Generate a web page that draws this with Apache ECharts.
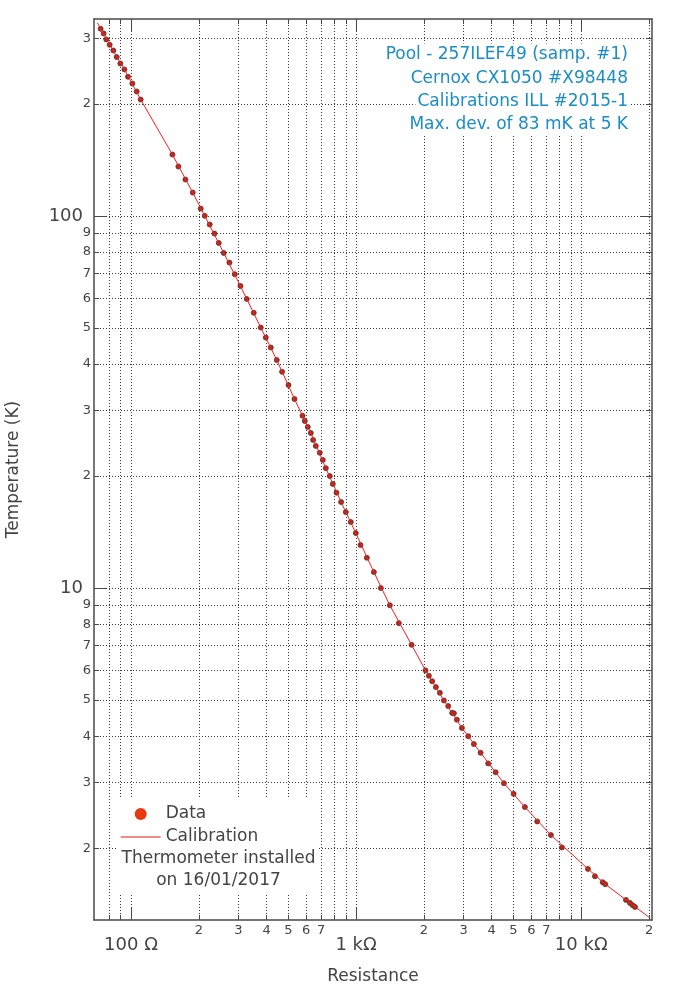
<!DOCTYPE html>
<html><head><meta charset="utf-8">
<script src="https://cdn.jsdelivr.net/npm/echarts@6/dist/echarts.min.js"></script>
<style>html,body{margin:0;padding:0;background:#fff}#c{width:700px;height:990px}</style>
</head><body><div id="c"></div>
<script>
// ---- data ----
const dataR = [73.3,75.6,77.7,80.4,83.5,86.4,89.7,93.5,97.0,101.4,106.0,110.4,152.8,162.4,174.5,188.0,204.0,212.6,223.7,234.8,245.3,258.2,273.7,289.0,306.4,326.8,351.0,377.1,396.9,417.8,444.2,469.0,500.7,532.4,577.9,591.6,610.0,629.1,644.1,662.1,689.8,711.2,733.4,764.0,787.8,818.2,857.6,900.0,947.1,997.0,1046,1116,1199,1288,1412,1548,1763,2034,2104,2177,2261,2355,2454,2564,2671,2718,2803,2950,3147,3335,3573,3861,4165,4534,5007,5621,6375,7334,8208,10710,11506,12450,12790,15800,16460,16920,17330];
const dataT = [318.2,309.1,297.8,288.2,278.2,267.1,256.7,247.4,236.4,226.8,215.9,205.4,146.1,135.7,125.2,115.5,104.6,100.0,94.8,89.6,84.6,79.5,74.9,69.7,64.8,59.8,54.9,50.1,47.1,44.3,41.0,38.1,35.1,32.2,29.05,28.1,27.1,26.1,25.0,24.1,23.1,22.1,21.0,20.0,19.04,18.04,17.03,16.0,15.05,14.05,13.05,12.06,11.04,10.0,8.99,8.05,7.04,6.01,5.81,5.62,5.42,5.23,4.99,4.82,4.62,4.61,4.43,4.21,4.00,3.81,3.61,3.38,3.20,2.99,2.80,2.58,2.36,2.17,2.01,1.760,1.682,1.621,1.601,1.453,1.426,1.406,1.391];
const calR = [70.9,80.4,93.5,110.4,152.8,188.0,212.6,258.2,306.4,377.1,444.2,532.4,629.1,733.4,857.6,997.0,1199,1412,1763,2034,2454,2950,3573,4534,5621,7334,10710,12790,15800,20000];
const calT = [330,288.2,247.4,205.4,146.1,115.5,100.0,79.5,64.8,50.1,41.0,32.2,26.1,21.0,17.03,14.05,11.04,8.99,7.04,6.01,4.99,4.21,3.61,2.99,2.58,2.17,1.760,1.601,1.453,1.305];

// ---- axes ticks / labels ----
const xGridVals = [80,90,100,200,300,400,500,600,700,800,900,1000,2000,3000,4000,5000,6000,7000,8000,9000,10000,20000];
const xMinorLabelVals = [200,300,400,500,600,700,2000,3000,4000,5000,6000,7000,20000];
const xMajorVals = [100,1000,10000];
const xMajorLabels = ['100 Ω','1 kΩ','10 kΩ'];
const yGridVals = [2,3,4,5,6,7,8,9,10,20,30,40,50,60,70,80,90,100,200,300];
const yMinorLabelVals = [2,3,4,5,6,7,8,9,20,30,40,50,60,70,80,90,200,300];
const yMajorVals = [10,100];
const yMajorLabels = ['10','100'];
const infoLines = ['Pool - 257ILEF49 (samp. #1)','Cernox CX1050 #X98448','Calibrations ILL #2015-1','Max. dev. of 83 mK at 5 K'];
const noteLines = ['Thermometer installed','on 16/01/2017'];
const seriesNames = ['Data','Calibration'];
const xName = 'Resistance';
const yName = 'Temperature (K)';

const X_MIN = 68.5, X_MAX = 20620, Y_MIN = 1.283, Y_MAX = 338;
const FONT = 'DejaVu Sans';
const AX = '#4a4a4a', TXT = '#444', BLUE = '#1a8dc7', GRID = '#3a3a3a';

function digit(v){ const e = Math.floor(Math.log10(v) + 1e-9); return String(Math.round(v / Math.pow(10, e))); }
function nearestLabel(vals, labels){ return function(v){ let b=0, d=1e9; vals.forEach((x,i)=>{ const dd=Math.abs(Math.log10(x)-Math.log10(v)); if(dd<d){d=dd;b=i;} }); return labels[b]; }; }

function axisBase(min, max, position){
  return {type:'log', logBase:10, min:min, max:max, position:position, gridIndex:0,
    axisLine:{show:false, onZero:false, lineStyle:{color:AX, width:1.5}},
    axisTick:{show:false}, minorTick:{show:false}, splitLine:{show:false},
    axisLabel:{show:false}};
}
function withMinor(ax, ticks){
  ax.axisLine.show = true;
  ax.axisTick = {show:true, inside:true, length:5, customValues:ticks, lineStyle:{color:AX, width:1}};
  return ax;
}
function withMajor(ax, ticks){
  ax.axisTick = {show:true, inside:true, length:12, customValues:ticks, lineStyle:{color:AX, width:1}};
  return ax;
}

const x0 = withMinor(axisBase(X_MIN, X_MAX, 'bottom'), xGridVals);
x0.splitLine = {show:true, lineStyle:{type:[1,2], color:GRID, width:1}};
x0.axisLabel = {show:true, customValues:xMinorLabelVals, formatter:digit, fontSize:13, margin:4, color:TXT, fontFamily:FONT};
x0.name = xName; x0.nameLocation = 'middle'; x0.nameGap = 48;
x0.nameTextStyle = {fontSize:17, color:TXT, fontFamily:FONT};
const x1 = withMajor(axisBase(X_MIN, X_MAX, 'bottom'), xMajorVals);
x1.axisLabel = {show:true, customValues:xMajorVals, formatter:nearestLabel(xMajorVals, xMajorLabels), fontSize:18, margin:16, color:TXT, fontFamily:FONT};
const x2 = withMinor(axisBase(X_MIN, X_MAX, 'top'), xGridVals);
const x3 = withMajor(axisBase(X_MIN, X_MAX, 'top'), xMajorVals);

const y0 = withMinor(axisBase(Y_MIN, Y_MAX, 'left'), yGridVals);
y0.splitLine = {show:true, lineStyle:{type:[1,2], color:GRID, width:1}};
y0.axisLabel = {show:true, customValues:yMinorLabelVals, formatter:digit, fontSize:13, margin:3, color:TXT, fontFamily:FONT};
y0.name = yName; y0.nameLocation = 'middle'; y0.nameGap = 72;
y0.nameTextStyle = {fontSize:17, color:TXT, fontFamily:FONT};
const y1 = withMajor(axisBase(Y_MIN, Y_MAX, 'left'), yMajorVals);
y1.axisLabel = {show:true, customValues:yMajorVals, formatter:nearestLabel(yMajorVals, yMajorLabels), fontSize:18, margin:11, color:TXT, fontFamily:FONT};
const y2 = withMinor(axisBase(Y_MIN, Y_MAX, 'right'), yGridVals);
const y3 = withMajor(axisBase(Y_MIN, Y_MAX, 'right'), yMajorVals);

const infoCenters = [55, 78.5, 101.5, 124.5];
const graphics = infoLines.map((t,i)=>({
  type:'text', x:630, y:infoCenters[i], z:20,
  style:{text:t, align:'right', verticalAlign:'middle', fill:BLUE, fontSize:17, fontFamily:FONT, backgroundColor:'#fff', padding:[3,2]}
}));
graphics.push({type:'rect', shape:{x:118, y:798, width:199, height:97}, style:{fill:'#fff'}, z:20});
const noteCenters = [859, 881];
noteLines.forEach((t,i)=>graphics.push({
  type:'text', x:218.5, y:noteCenters[i], z:21,
  style:{text:t, align:'center', verticalAlign:'middle', fill:TXT, fontSize:17, fontFamily:FONT}
}));

const chart = echarts.init(document.getElementById('c'), null, {renderer:'canvas'});
chart.setOption({
  animation:false,
  backgroundColor:'#fff',
  textStyle:{fontFamily:FONT},
  grid:{left:94, right:48, top:19, bottom:70, containLabel:false, outerBoundsMode:'none'},
  xAxis:[x0,x1,x2,x3],
  yAxis:[y0,y1,y2,y3],
  legend:{orient:'vertical', left:120.7, top:805.5, padding:0, itemWidth:40, itemHeight:12, itemGap:6, z:30,
    textStyle:{fontSize:17, color:TXT, fontFamily:FONT},
    data:[{name:seriesNames[0], icon:'circle', itemStyle:{color:'#e8380f', borderWidth:0, opacity:1}},
          {name:seriesNames[1], icon:'path://M0,0L40,0L40,1L0,1Z', itemStyle:{color:'#e81a1a', borderWidth:0}}]},
  graphic:graphics,
  series:[
    {name:seriesNames[0], type:'scatter', xAxisIndex:0, yAxisIndex:0, z:2,
     data:dataR.map((r,i)=>[r, dataT[i]]), symbol:'circle', symbolSize:5,
     itemStyle:{color:'#b8281a', borderColor:'#553530', borderWidth:0.8, opacity:1}},
    {name:seriesNames[1], type:'line', xAxisIndex:0, yAxisIndex:0, z:3,
     data:calR.map((r,i)=>[r, calT[i]]), showSymbol:false, symbol:'none',
     lineStyle:{color:'#ff1a1a', width:1}, itemStyle:{color:'#ff1a1a'}}
  ]
});
</script></body></html>
